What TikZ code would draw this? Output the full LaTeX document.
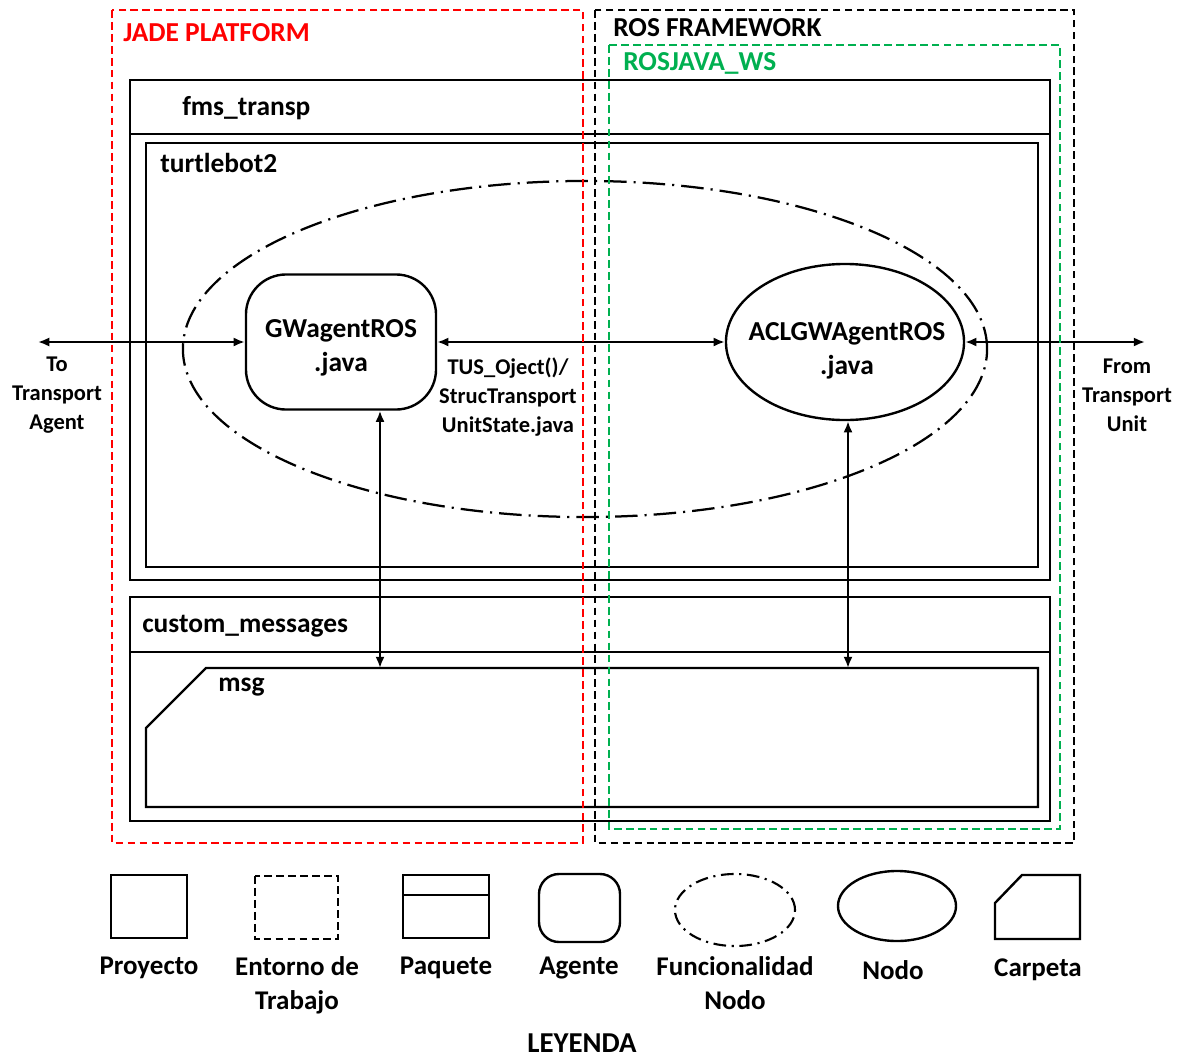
\documentclass[tikz,border=0pt]{standalone}
\usepackage{fontspec}
\setmainfont{Carlito}
\usepackage{tikz}
\usetikzlibrary{shapes.geometric, arrows.meta, positioning, calc}
\definecolor{cJade}{RGB}{255,0,0}
\definecolor{cRosjava}{RGB}{0,176,80}
\tikzset{
	projline/.style ={draw=black, line width=1.7pt},
	envline/.style  ={line width=1.6pt, dash pattern=on 5.5pt off 3pt},
	agentbox/.style ={rectangle, rounded corners=1cm, draw=black, line width=1.7pt, minimum width=4.75cm, minimum height=3.375cm, inner sep=0pt},
	rosnode/.style  ={ellipse, draw=black, line width=1.7pt, minimum width=5.95cm, minimum height=3.9cm, inner sep=0pt},
	funcnode/.style ={ellipse, draw=black, line width=1.6pt, dash pattern=on 16pt off 5pt on 1.5pt off 5pt, inner sep=0pt},
	link/.style     ={{Latex[length=8pt, width=6.5pt]}-{Latex[length=8pt, width=6.5pt]}, line width=1.5pt},
	% text styles
	nodetxt/.style  ={align=center, inner sep=0pt},
	tagtxt/.style   ={anchor=west, inner sep=0pt, font=\fontsize{19.5}{24}\selectfont\bfseries},
	sidetxt/.style  ={align=center, inner sep=0pt, font=\fontsize{16}{20.5}\selectfont\bfseries},
	legtxt/.style   ={align=center, inner sep=0pt, font=\fontsize{19.2}{24.5}\selectfont\bfseries},
}

\begin{document}
\begin{tikzpicture}[x=0.025cm, y=-0.025cm, font=\fontsize{19.5}{24}\selectfont\bfseries]
	\useasboundingbox (0,0) rectangle (1184,1059);

	% project fms_transp with package turtlebot2
	\draw[projline] (130,80) rectangle (1050,580);
	\draw[projline] (130,134) -- (1050,134);
	\draw[projline] (146,143) rectangle (1038,567);
	\node[tagtxt] (fms) at (182,108) {fms\_transp};
	\node[tagtxt] (tb2) at (160,163) {turtlebot2};

	% project custom_messages with folder msg
	\draw[projline] (130,597) rectangle (1050,821);
	\draw[projline] (130,652) -- (1050,652);
	\draw[projline] (206,668) -- (1038,668) -- (1038,807) -- (146,807) -- (146,728) -- cycle;
	\node[tagtxt] (cm) at (142,626) {custom\_messages};
	\node[tagtxt] (msg) at (218,687) {msg};

	% node functionality, agent and ROS node
	\node[funcnode, minimum width=20.1cm, minimum height=8.4cm] (fn) at (585,349) {};
	\node[agentbox] (ag) at (341,342) {};
	\node[nodetxt] (agtxt) at (341,348) {GWagentROS\\.java};
	\node[rosnode] (nd) at (845,342) {};
	\node[nodetxt] (ndtxt) at (847,351) {ACLGWAgentROS\\.java};

	\coordinate (toagent) at (38,342);
	\coordinate (fromunit) at (1145,342);
	\coordinate (m1) at (380,668);
	\coordinate (m2) at (848,668);

	\draw[link] (toagent) -- (ag.west);
	\draw[link] (ag.east) -- (nd.west);
	\draw[link] (nd.east) -- (fromunit);
	\draw[link] (m1 |- ag.south) -- (m1);
	\draw[link] (m2 |- nd.south) -- (m2);

	\node[sidetxt] (lto) at (57,395) {To\\Transport\\Agent};
	\node[sidetxt] (lfrom) at (1127,395) {From\\Transport\\Unit};
	\node[sidetxt] (ltus) at (508,397) {TUS\_Oject()/\\StrucTransport\\UnitState.java};

	% working environments
	\draw[envline, draw=cJade] (112,10) rectangle (583,843);
	\draw[envline, draw=black] (595,10) rectangle (1074,843);
	\draw[envline, draw=cRosjava] (609,45) rectangle (1060,829);
	\node[tagtxt, text=cJade] (jade) at (123,33) {JADE PLATFORM};
	\node[tagtxt] (ros) at (613,28) {ROS FRAMEWORK};
	\node[tagtxt, text=cRosjava] (rj) at (623,63) {ROSJAVA\_WS};

	% legend
	\draw[projline] (111,875) rectangle (187,938);
	\draw[envline] (255,876) rectangle (338,939);
	\draw[projline] (403,875) rectangle (489,938);
	\draw[projline] (403,895) -- (489,895);
	\draw[projline, rounded corners=0.5cm] (539,874) rectangle (620,942);
	\draw[line width=1.5pt, dash pattern=on 9pt off 4pt on 1.5pt off 4pt] (735,910) ellipse [x radius=1.5cm, y radius=0.9cm];
	\draw[projline] (897,906) ellipse [x radius=1.475cm, y radius=0.875cm];
	\draw[projline] (1022,875) -- (1080,875) -- (1080,939) -- (995,939) -- (995,903) -- cycle;

	\node[legtxt] (lp) at (149,968) {Proyecto};
	\node[legtxt, anchor=north] (le) at (297,956) {Entorno de\\Trabajo};
	\node[legtxt] (lq) at (446,968) {Paquete};
	\node[legtxt] (la) at (579,968) {Agente};
	\node[legtxt, anchor=north] (lf) at (735,956) {Funcionalidad\\Nodo};
	\node[legtxt] (ln) at (893,970) {Nodo};
	\node[legtxt] (lc) at (1038,970) {Carpeta};
	\node[legtxt, font=\fontsize{20.5}{24}\selectfont\bfseries] (ley) at (582,1043) {LEYENDA};
\end{tikzpicture}
\end{document}
